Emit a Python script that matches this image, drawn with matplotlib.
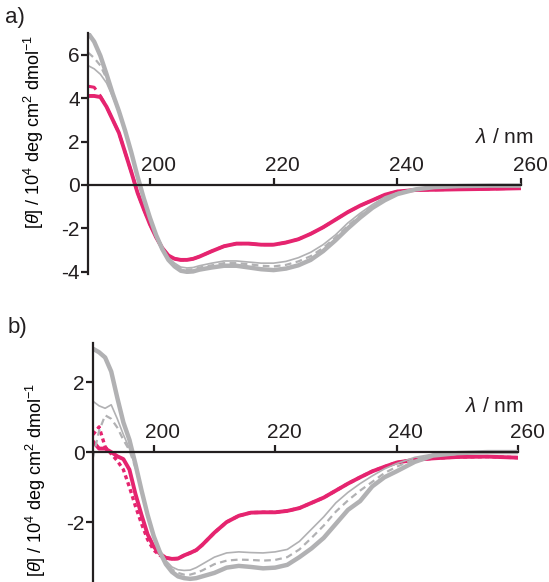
"""CD spectra, two panels: gray reference curves vs magenta sample."""
import matplotlib.pyplot as plt
from matplotlib.transforms import ScaledTranslation

MAGENTA = "#E5246F"
GRAY = "#B1B1B3"

# wavelength grid (nm) used for every curve
wl = [190, 191, 192, 193, 194, 195, 196, 197, 198, 199, 200, 201, 202, 203,
      204, 205, 206, 207, 208, 210, 212, 214, 216, 218, 220, 222, 224, 226,
      228, 230, 232, 234, 236, 238, 240, 243, 246, 250, 255, 260]

# panel a  ([theta] / 10^4 deg cm2 dmol-1)
a_gray_thick = [7.0, 6.6, 5.95, 5.1, 4.2, 3.4, 2.5, 1.5, 0.4, -0.6, -1.5, -2.3,
                -2.95, -3.45, -3.75, -3.95, -4.0, -3.98, -3.9, -3.8, -3.72,
                -3.72, -3.8, -3.88, -3.92, -3.85, -3.7, -3.45, -3.05, -2.55,
                -2.0, -1.5, -1.05, -0.7, -0.42, -0.2, -0.1, -0.05, -0.03, -0.03]
a_gray_thin = [5.5, 5.35, 5.1, 4.7, 4.05, 3.35, 2.45, 1.45, 0.4, -0.6, -1.5,
               -2.3, -2.9, -3.35, -3.6, -3.78, -3.82, -3.8, -3.72, -3.6, -3.5,
               -3.5, -3.55, -3.6, -3.6, -3.52, -3.35, -3.1, -2.75, -2.3, -1.75,
               -1.3, -0.9, -0.55, -0.35, -0.18, -0.1, -0.06, -0.04, -0.04]
a_gray_dash = [6.1, 5.85, 5.5, 4.9, 4.15, 3.4, 2.5, 1.5, 0.4, -0.6, -1.5, -2.3,
               -2.92, -3.4, -3.68, -3.85, -3.9, -3.88, -3.8, -3.7, -3.6, -3.6,
               -3.65, -3.72, -3.75, -3.68, -3.52, -3.28, -2.9, -2.42, -1.88,
               -1.4, -0.98, -0.62, -0.38, -0.19, -0.1, -0.05, -0.04, -0.04]
a_mag = [4.1, 4.1, 4.05, 3.6, 3.0, 2.4, 1.5, 0.6, -0.35, -1.1, -1.8, -2.4,
         -2.9, -3.25, -3.4, -3.45, -3.45, -3.4, -3.3, -3.05, -2.82, -2.7, -2.7,
         -2.75, -2.75, -2.65, -2.5, -2.25, -1.95, -1.6, -1.25, -0.95, -0.7,
         -0.45, -0.3, -0.23, -0.22, -0.2, -0.18, -0.15]
a_mag_dash = [4.55, 4.5, 4.1, 3.6, 3.0, 2.4, 1.5, 0.6, -0.35, -1.1, -1.8, -2.4,
              -2.9, -3.25, -3.4, -3.45, -3.45, -3.4, -3.3, -3.05, -2.82, -2.7,
              -2.7, -2.75, -2.75, -2.65, -2.5, -2.25, -1.95, -1.6, -1.25, -0.95,
              -0.7, -0.45, -0.3, -0.23, -0.22, -0.2, -0.18, -0.15]

# panel b
b_gray_thick = [2.95, 2.85, 2.7, 2.3, 1.55, 0.85, 0.35, -0.35, -1.1, -1.8,
                -2.4, -2.85, -3.2, -3.42, -3.55, -3.6, -3.62, -3.6, -3.55,
                -3.45, -3.3, -3.25, -3.28, -3.32, -3.3, -3.22, -3.0, -2.75,
                -2.45, -2.05, -1.65, -1.4, -0.98, -0.72, -0.55, -0.28, -0.1,
                -0.03, 0.0, 0.0]
b_gray_thin = [1.45, 1.32, 1.25, 1.35, 0.95, 0.5, 0.1, -0.4, -1.1, -1.8, -2.4,
               -2.8, -3.1, -3.28, -3.36, -3.38, -3.37, -3.3, -3.2, -3.0, -2.88,
               -2.85, -2.87, -2.88, -2.85, -2.78, -2.55, -2.2, -1.85, -1.45,
               -1.15, -0.9, -0.68, -0.48, -0.33, -0.15, -0.06, -0.02, 0.0, 0.0]
b_gray_dash = [-0.15, 0.6, 1.05, 0.95, 0.7, 0.35, 0.05, -0.45, -1.1, -1.8,
               -2.4, -2.85, -3.15, -3.35, -3.45, -3.5, -3.5, -3.45, -3.38,
               -3.2, -3.1, -3.07, -3.08, -3.1, -3.08, -3.0, -2.78, -2.45, -2.1,
               -1.7, -1.38, -1.1, -0.85, -0.6, -0.42, -0.2, -0.08, -0.02, 0.0,
               0.0]
b_mag = [0.3, 0.1, 0.1, 0.0, -0.12, -0.2, -0.5, -1.2, -1.8, -2.35, -2.7, -2.9,
         -3.02, -3.05, -3.04, -2.95, -2.88, -2.8, -2.65, -2.3, -2.0, -1.82,
         -1.73, -1.72, -1.72, -1.68, -1.6, -1.45, -1.3, -1.1, -0.9, -0.72,
         -0.55, -0.42, -0.3, -0.22, -0.18, -0.14, -0.13, -0.16]
b_mag_dot = [0.5, 0.72, 0.15, -0.05, -0.25, -0.5, -1.0, -1.55, -2.05, -2.5,
             -2.8, -2.95, -3.02, -3.05, -3.04, -2.95, -2.88, -2.8, -2.65, -2.3,
             -2.0, -1.82, -1.73, -1.72, -1.72, -1.68, -1.6, -1.45, -1.3, -1.1,
             -0.9, -0.72, -0.55, -0.42, -0.3, -0.22, -0.18, -0.14, -0.13, -0.16]

xticks = [200, 220, 240, 260]
a_yticks = [-4, -2, 0, 2, 4, 6]
b_yticks = [-2, 0, 2]

plt.rcParams.update({
    "font.family": ["Liberation Sans", "DejaVu Sans"],
    "mathtext.fontset": "custom",
    "mathtext.rm": "Liberation Sans",
    "mathtext.it": "Liberation Sans:italic",
    "axes.unicode_minus": False,
    "text.color": "#231f20",
})

YLABEL = r"[$\theta$] / 10$^4$ deg cm$^2$ dmol$^{-1}$"
fig = plt.figure(figsize=(5.49, 5.82), dpi=100)
ax_a = fig.add_axes([0.1603, 0.5292, 0.7887, 0.4141])
ax_b = fig.add_axes([0.1694, 0.0, 0.7741, 0.4098])


def style(ax, ylim, yticks):
    ax.set_xlim(190, 260)
    ax.set_ylim(*ylim)
    ax.patch.set_visible(False)
    for s in ("right", "bottom"):
        ax.spines[s].set_visible(False)
    ax.spines["top"].set_position(("data", 0))
    for s in ("top", "left"):
        ax.spines[s].set_linewidth(1.6)
        ax.spines[s].set_color("#231f20")
    ax.xaxis.tick_top()
    ax.set_xticks(xticks)
    ax.set_yticks(yticks)
    ax.tick_params(axis="x", direction="out", length=5, width=1.6, pad=2,
                   labelsize=15, colors="#231f20")
    ax.tick_params(axis="y", direction="out", length=5, width=1.6, pad=1,
                   labelsize=15, colors="#231f20")
    shift = ScaledTranslation(0.09, 0, fig.dpi_scale_trans)
    for lab in ax.get_xticklabels():
        lab.set_transform(lab.get_transform() + shift)


# panel a
ax_a.plot(wl, a_mag_dash, color=MAGENTA, lw=2.2, ls=(0, (3, 2)))
ax_a.plot(wl, a_mag, color=MAGENTA, lw=2.8)
ax_a.plot(wl, a_gray_thin, color=GRAY, lw=1.2)
ax_a.plot(wl, a_gray_dash, color=GRAY, lw=1.6, ls=(0, (3, 2)))
ax_a.plot(wl, a_gray_thick, color=GRAY, lw=3.2)
style(ax_a, (-4.1, 7.0), a_yticks)
ax_a.set_ylabel(YLABEL, fontsize=13)
ax_a.yaxis.set_label_coords(-0.097, 0.59)

# panel b
ax_b.plot(wl, b_mag_dot, color=MAGENTA, lw=2.4, ls=(0, (1.2, 1)))
ax_b.plot(wl, b_mag, color=MAGENTA, lw=2.8)
ax_b.plot(wl, b_gray_thin, color=GRAY, lw=1.2)
ax_b.plot(wl, b_gray_dash, color=GRAY, lw=1.6, ls=(0, (3, 2)))
ax_b.plot(wl, b_gray_thick, color=GRAY, lw=3.2)
style(ax_b, (-3.71, 3.1), b_yticks)
ax_b.set_ylabel(YLABEL, fontsize=13)
ax_b.yaxis.set_label_coords(-0.106, 0.43)

fig.text(475 / 549, 1 - 137 / 582, r"$\lambda$ / nm", fontsize=15, va="center")
fig.text(465 / 549, 1 - 407 / 582, r"$\lambda$ / nm", fontsize=15, va="center")
fig.text(5 / 549, 1 - 17 / 582, "a)", fontsize=16, va="center")
fig.text(8 / 549, 1 - 327 / 582, "b)", fontsize=16, va="center")

fig.savefig("out.png", dpi=100)
